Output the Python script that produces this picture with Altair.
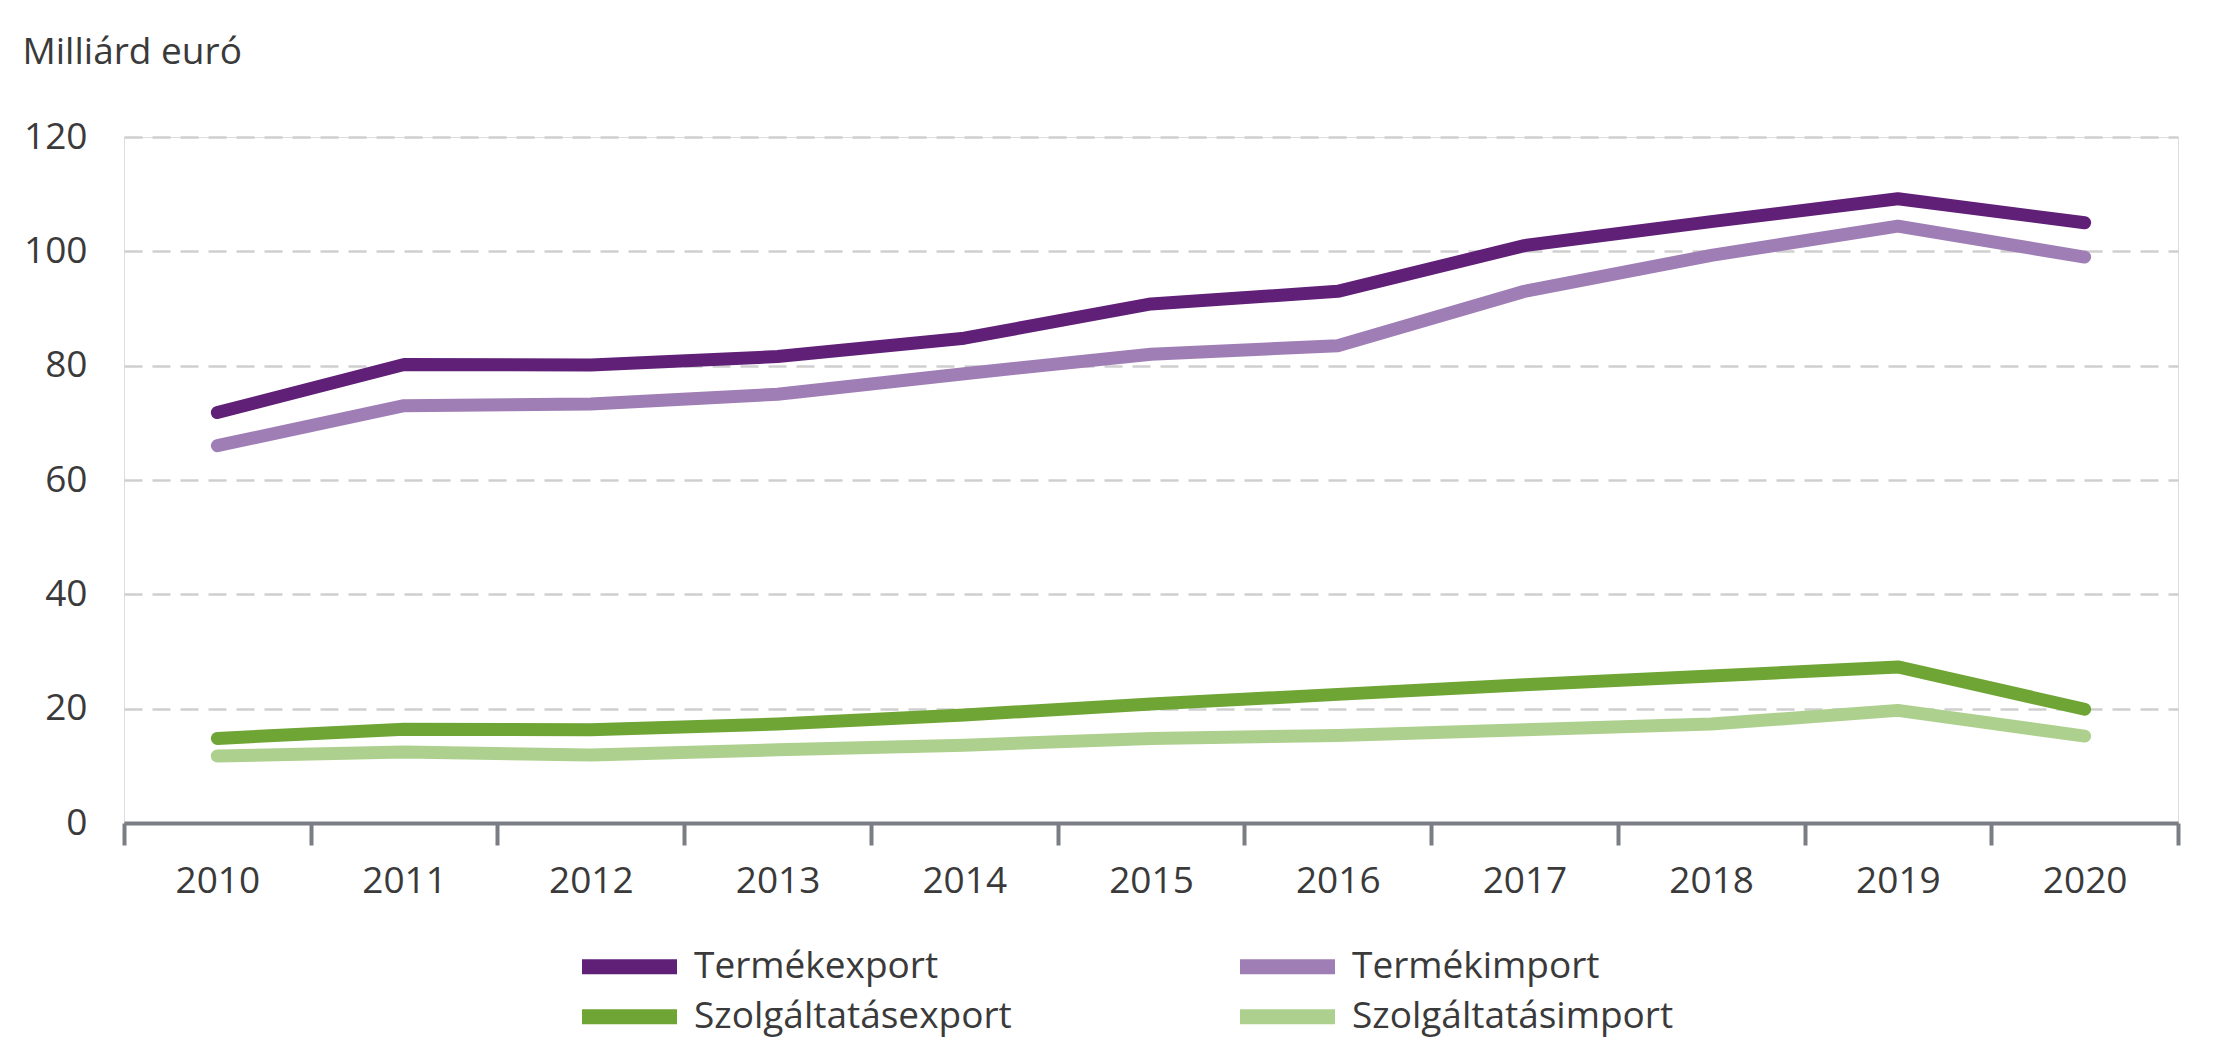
import altair as alt
import pandas as pd

years = ["2010", "2011", "2012", "2013", "2014", "2015", "2016", "2017", "2018", "2019", "2020"]
series = ["Termékexport", "Termékimport", "Szolgáltatásexport", "Szolgáltatásimport"]
colors = ["#612078", "#9F7EB5", "#6FA535", "#AED08F"]

termekexport = [71.8, 80.2, 80.1, 81.6, 84.8, 90.8, 93.0, 101.0, 105.2, 109.2, 105.0]
termekimport = [66.0, 73.0, 73.3, 75.0, 78.6, 82.0, 83.5, 93.0, 99.3, 104.4, 99.0]
szolgexport = [14.8, 16.4, 16.3, 17.3, 18.9, 20.8, 22.5, 24.2, 25.7, 27.3, 19.9]
szolgimport = [11.7, 12.4, 11.9, 12.8, 13.6, 14.8, 15.3, 16.3, 17.3, 19.7, 15.2]

values = [termekexport, termekimport, szolgexport, szolgimport]
rows = []
for s, vals in zip(series, values):
    for y, v in zip(years, vals):
        rows.append({"year": y, "series": s, "value": v})
df = pd.DataFrame(rows)

FONT = "Open Sans"
TXT = "#3A3A3A"

x_enc = alt.X(
    "year:O",
    bandPosition=0.5,
    scale=alt.Scale(type="band", paddingInner=0, paddingOuter=0),
    axis=alt.Axis(
        title=None, labelAngle=0, labelFontSize=37, labelColor=TXT, labelFont=FONT,
        domainColor="#7B7D84", domainWidth=4, tickColor="#7B7D84", tickWidth=4,
        tickSize=22, tickBand="extent", labelPadding=18, grid=False,
    ),
)
y_enc = alt.Y(
    "value:Q",
    scale=alt.Scale(domain=[0, 120], nice=False),
    axis=alt.Axis(
        values=[0, 20, 40, 60, 80, 100, 120], grid=True, gridDash=[18, 10],
        gridColor="#CFCFCF", gridWidth=2.5, domain=False, ticks=False,
        labelFontSize=37, labelColor=TXT, labelFont=FONT, labelPadding=37,
        title="Milliárd euró", titleAngle=0, titleAlign="left", titleBaseline="alphabetic",
        titleX=-102, titleY=-74, titleFontSize=37, titleFontWeight="normal",
        titleColor=TXT, titleFont=FONT,
    ),
)


def legend(y, colpad):
    return alt.Legend(
        title=None, orient="none", legendX=487, legendY=y, columns=2,
        direction="horizontal",
        symbolType="M-5,0L5,0", symbolSize=361, symbolStrokeWidth=15,
        labelFontSize=37, labelColor=TXT, labelFont=FONT, labelOffset=46,
        labelLimit=1000, columnPadding=colpad, padding=0,
    )


base = alt.Chart(df).mark_line(strokeWidth=13, strokeCap="round", strokeJoin="round")

goods = base.transform_filter(
    alt.FieldOneOfPredicate(field="series", oneOf=series[:2])
).encode(
    x=x_enc, y=y_enc,
    color=alt.Color("series:N", sort=series[:2],
                    scale=alt.Scale(domain=series[:2], range=colors[:2]),
                    legend=legend(811, 271)),
)

services = base.transform_filter(
    alt.FieldOneOfPredicate(field="series", oneOf=series[2:])
).encode(
    x=x_enc, y=y_enc,
    color=alt.Color("series:N", sort=series[2:],
                    scale=alt.Scale(domain=series[2:], range=colors[2:]),
                    legend=legend(861, 198)),
)

chart = alt.layer(goods, services).resolve_scale(color="independent").properties(
    width=2054, height=686,
    autosize=alt.AutoSizeParams(type="none"),
    padding={"left": 116, "top": 129, "right": 27, "bottom": 228},
).configure_view(stroke=None).configure(background="white")

chart.save("out.html", embed_options={"renderer": "svg", "actions": False})
